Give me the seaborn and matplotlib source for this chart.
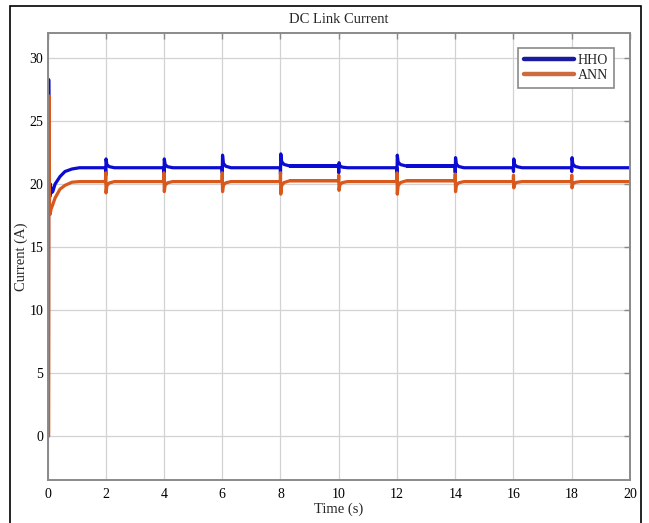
import numpy as np
import pandas as pd
import matplotlib
matplotlib.use("Agg")
import matplotlib.pyplot as plt
from matplotlib.patches import Rectangle
from matplotlib.lines import Line2D
import seaborn as sns

# ---- start-up transient (time in s, current in A) ----
hho_start_t = [0.03, 0.04, 0.06, 0.08, 0.10, 0.13, 0.18, 0.26, 0.43, 0.60, 0.84, 1.10, 1.50]
hho_start_v = [0.0, 28.3, 19.6, 19.0, 20.0, 19.3, 19.4, 20.0, 20.6, 21.0, 21.2, 21.3, 21.3]
ann_start_t = [0.04, 0.05, 0.07, 0.09, 0.12, 0.17, 0.26, 0.43, 0.60, 0.84, 1.10, 1.50]
ann_start_v = [0.0, 27.0, 18.5, 17.6, 18.0, 18.3, 18.9, 19.6, 19.9, 20.15, 20.2, 20.2]

# ---- step events ----
event_t = [2, 4, 6, 8, 10, 12, 14, 16, 18]
hho_peak = [22.0, 22.0, 22.3, 22.4, 21.7, 22.3, 22.1, 22.0, 22.1]
hho_dip = [20.7, 20.8, 20.9, 20.8, 20.9, 20.8, 20.9, 21.0, 21.0]
hho_level = [21.3, 21.3, 21.3, 21.45, 21.3, 21.45, 21.3, 21.3, 21.3]
ann_peak = [20.9, 20.9, 20.9, 20.9, 20.7, 20.9, 20.8, 20.7, 20.7]
ann_dip = [19.3, 19.4, 19.4, 19.2, 19.5, 19.2, 19.4, 19.7, 19.7]
ann_level = [20.2, 20.2, 20.2, 20.25, 20.2, 20.25, 20.2, 20.2, 20.2]

# ripple bands (start, end, half-width)
hho_ripple = [(8.0, 10.0, 0.14), (12.0, 14.0, 0.14)]
ann_ripple = [(8.0, 10.0, 0.12), (12.0, 14.0, 0.12)]

t_end = 20.0


def build(start_t, start_v, first_level, peaks, dips, levels, up_first):
    ts, vs = list(start_t), list(start_v)
    level = first_level
    for tk, pk, dp, lv in zip(event_t, peaks, dips, levels):
        a, b = (dp, pk) if up_first else (pk, dp)
        bump = pk if up_first else dp
        ts += [tk - 0.01, tk, tk + 0.01, tk + 0.04, tk + 0.12, tk + 0.30]
        vs += [level, a, b, lv + (bump - lv) * 0.35, lv + (bump - lv) * 0.12, lv]
        level = lv
    ts.append(t_end)
    vs.append(level)
    return ts, vs


hho_t, hho_v = build(hho_start_t, hho_start_v, 21.3, hho_peak, hho_dip, hho_level, True)
ann_t, ann_v = build(ann_start_t, ann_start_v, 20.2, ann_peak, ann_dip, ann_level, False)

df = pd.concat([
    pd.DataFrame({"Time": hho_t, "Current": hho_v, "Method": "HHO"}),
    pd.DataFrame({"Time": ann_t, "Current": ann_v, "Method": "ANN"}),
], ignore_index=True)

colors = {"HHO": "#0b0bd2", "ANN": "#d9581c"}

sns.set_style("white")
plt.rcParams["font.family"] = ["Liberation Serif", "DejaVu Serif"]

fig = plt.figure(figsize=(6.49, 5.23), dpi=100)
ax = fig.add_axes([0.0732, 0.0822, 0.8975, 0.8547])

sns.lineplot(data=df, x="Time", y="Current", hue="Method", palette=colors,
             estimator=None, sort=False, linewidth=2.3, legend=False, ax=ax)

# ripple envelopes in the noisier intervals
for (t0, t1, hw), lv in zip(hho_ripple, [21.45, 21.45]):
    ax.fill_between([t0 + 0.3, t1], [lv - hw] * 2, [lv + hw] * 2, color=colors["HHO"], lw=0, zorder=2)
for (t0, t1, hw), lv in zip(ann_ripple, [20.25, 20.25]):
    ax.fill_between([t0 + 0.3, t1], [lv - hw] * 2, [lv + hw] * 2, color=colors["ANN"], lw=0, zorder=2)

ax.set_xlim(0, 20)
ax.set_ylim(-3.5, 32)
ax.set_xticks(np.arange(0, 21, 2))
ax.set_yticks(np.arange(0, 31, 5))
ax.grid(True, color="#d2d2d2", linewidth=0.9)
ax.set_axisbelow(True)

for s in ax.spines.values():
    s.set_color("#8a8a8a")
    s.set_linewidth(1.4)
ax.tick_params(direction="in", length=4, width=1, color="#8a8a8a",
               top=True, right=True, labelsize=10, labelcolor="black")
ax.tick_params(axis="y", pad=3)
ax.tick_params(axis="x", pad=6)

ax.set_xlabel("Time (s)", fontsize=10.5, labelpad=1)
ax.set_ylabel("Current (A)", fontsize=10.5)
ax.yaxis.set_label_coords(-0.034, 0.5)
ax.set_title("DC Link Current", fontsize=10.5, pad=7)

handles = [Line2D([], [], color="#1a1aa0", lw=3.2), Line2D([], [], color="#cc6a40", lw=3.2)]
leg = ax.legend(handles, ["HHO", "ANN"], loc="upper right", bbox_to_anchor=(0.984, 0.982),
                fontsize=10, handlelength=3.6, handletextpad=0.3, borderpad=0.4,
                labelspacing=0.2, fancybox=False, framealpha=1)
leg.get_frame().set_edgecolor("#8a8a8a")
leg.get_frame().set_linewidth(1.2)

fig.patches.append(Rectangle((10 / 649, -0.05), 631 / 649, 1 - 6 / 523 + 0.05,
                             transform=fig.transFigure, fill=False, ec="black", lw=1.2))

fig.savefig("out.png", dpi=100)
